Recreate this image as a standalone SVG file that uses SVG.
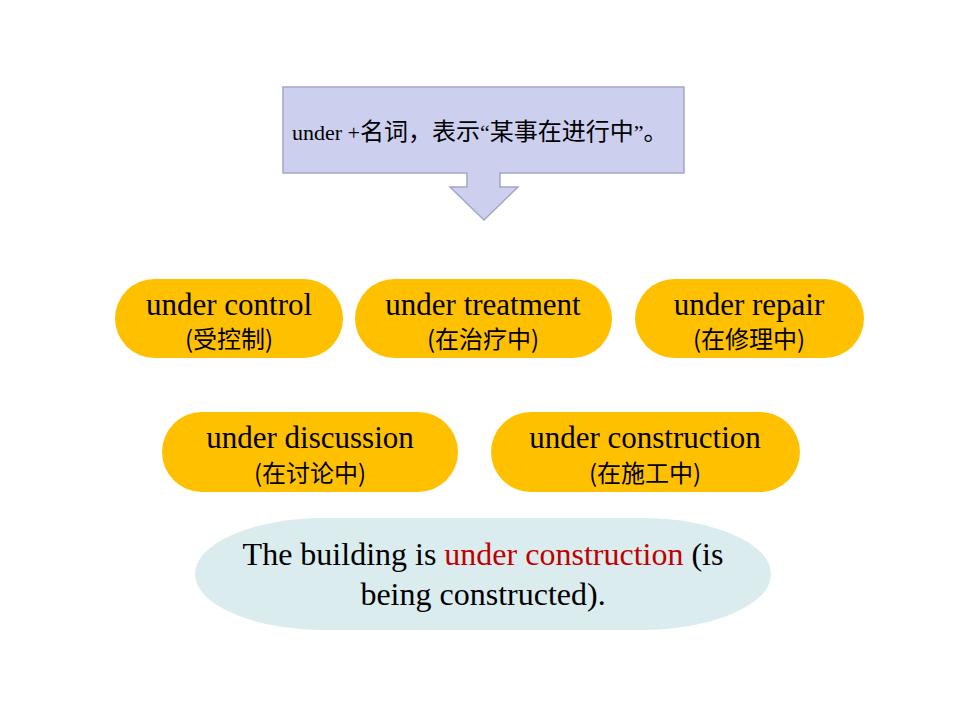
<svg xmlns="http://www.w3.org/2000/svg" width="960" height="720" viewBox="0 0 960 720">
<style>
.pill{fill:#FFC000;}
.en{font-family:"Liberation Serif","Times New Roman",serif;font-size:31px;fill:#000;text-anchor:middle;}
.zh{font-family:"Noto Sans CJK SC","Noto Sans",sans-serif;font-size:24px;fill:#000;text-anchor:middle;}
.ex{font-family:"Liberation Serif","Times New Roman",serif;font-size:32px;fill:#000;text-anchor:middle;}
</style>
<rect width="960" height="720" fill="#fff"/>
<g id="callout">
<path d="M283,87 H684 V173 H500 V187 H518 L484,220 L450,187 H467 V173 H283 Z" fill="#CDCFEE" stroke="#A3A6C6" stroke-width="1.5"/>
<text x="292" y="140"><tspan font-family="Liberation Serif,serif" font-size="22">under +</tspan><tspan font-family="Noto Sans CJK SC,sans-serif" font-size="24">名词，表示</tspan><tspan font-family="Liberation Serif,serif" font-size="22">“</tspan><tspan font-family="Noto Sans CJK SC,sans-serif" font-size="24">某事在进行中</tspan><tspan font-family="Liberation Serif,serif" font-size="22">”</tspan><tspan font-family="Noto Sans CJK SC,sans-serif" font-size="24">。</tspan></text>
</g>
<g id="n1"><rect class="pill" x="115" y="279" width="228" height="79" rx="39.5"/><text class="en" x="229" y="315">under control</text><text class="zh" x="229" y="348">(受控制)</text></g>
<g id="n2"><rect class="pill" x="355" y="279" width="257" height="79" rx="39.5"/><text class="en" x="483" y="315">under treatment</text><text class="zh" x="483" y="348">(在治疗中)</text></g>
<g id="n3"><rect class="pill" x="635" y="279" width="229" height="79" rx="39.5"/><text class="en" x="749" y="315">under repair</text><text class="zh" x="749" y="348">(在修理中)</text></g>
<g id="n4"><rect class="pill" x="162" y="412" width="296" height="80" rx="40"/><text class="en" x="310" y="448">under discussion</text><text class="zh" x="310" y="482">(在讨论中)</text></g>
<g id="n5"><rect class="pill" x="491" y="412" width="309" height="80" rx="40"/><text class="en" x="645" y="448">under construction</text><text class="zh" x="645" y="482">(在施工中)</text></g>
<g id="example">
<rect x="195" y="518" width="576" height="112" rx="130" ry="56" fill="#DAECEE"/>
<text class="ex" x="483" y="565">The building is <tspan fill="#C00000">under construction</tspan> (is</text>
<text class="ex" x="483" y="605">being constructed).</text>
</g>
<g id="connectors"></g>
</svg>
